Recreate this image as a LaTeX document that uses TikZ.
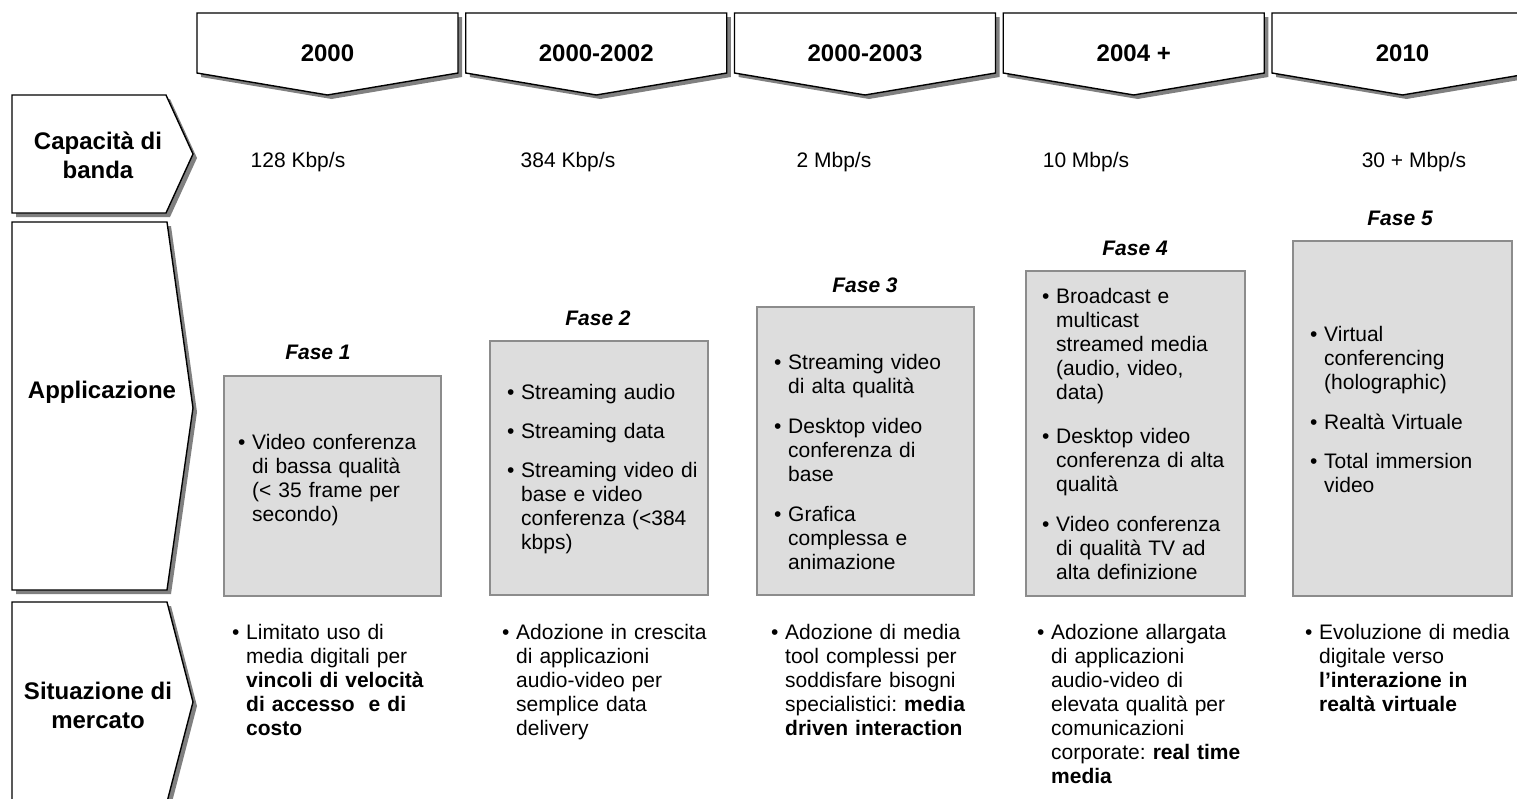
\documentclass[tikz,border=0pt]{standalone}
\usepackage{fontspec}
\setmainfont{Liberation Sans}
\definecolor{shadowgray}{HTML}{808080}
\definecolor{boxfill}{HTML}{DDDDDD}
\definecolor{boxborder}{HTML}{8C8C8C}
\newcommand{\bul}[1]{\par\noindent\makebox[14pt][l]{\textbullet}\begin{tabular}[t]{@{}l@{}}#1\end{tabular}\par}
\newcommand{\gap}{\vspace{15pt}}
\newcommand{\gapb}{\vspace{19pt}}
\frenchspacing
\begin{document}
\begin{tikzpicture}[x=1pt,y=-1pt,
  chev/.style={draw=black, line width=1.4pt, fill=white, line join=miter},
  shad/.style={fill=shadowgray, draw=none},
  phasebox/.style={draw=boxborder, line width=1.4pt, fill=boxfill},
  lbl/.style={font=\fontsize{24}{29}\selectfont\bfseries, align=center, inner sep=0},
  bw/.style={font=\fontsize{21}{24}\selectfont, inner sep=0},
  fase/.style={font=\fontsize{21}{24}\selectfont\bfseries\itshape, inner sep=0},
  body/.style={font=\fontsize{21}{24}\selectfont\frenchspacing, inner sep=0, text width=250pt, anchor=north west}]
\useasboundingbox (0,0) rectangle (1517,798);
\clip (0,0) rectangle (1517,798);

% top chevrons
\foreach \i/\t in {0/2000,1/2000-2002,2/2000-2003,3/2004 +,4/2010}{
  \pgfmathsetmacro{\xa}{197+268.75*\i}
  \pgfmathsetmacro{\xb}{\xa+261}
  \pgfmathsetmacro{\xm}{\xa+130.5}
  \fill[shad] (\xa+4,17) -- (\xb+4,17) -- (\xb+4,77) -- (\xm+4,99) -- (\xa+4,77) -- cycle;
  \draw[chev] (\xa,13) -- (\xb,13) -- (\xb,73) -- (\xm,95) -- (\xa,73) -- cycle;
  \node[lbl] (year\i) at (\xm,53) {\t};
}

% left chevrons
\fill[shad] (16,99) -- (170,99) -- (197,158) -- (170,217) -- (16,217) -- cycle;
\draw[chev] (12,95) -- (166,95) -- (193,154) -- (166,213) -- (12,213) -- cycle;
\fill[shad] (16,226) -- (171,226) -- (197,412) -- (171,594) -- (16,594) -- cycle;
\draw[chev] (12,222) -- (167,222) -- (193,408) -- (167,590) -- (12,590) -- cycle;
\fill[shad] (16,606) -- (171,606) -- (197,706) -- (171,806) -- (16,806) -- cycle;
\draw[chev] (12,602) -- (167,602) -- (193,702) -- (167,802) -- (12,802) -- cycle;

\node[lbl] (lcap) at (98,155) {Capacità di\\banda};
\node[lbl] (lapp) at (102,392) {Applicazione};
\node[lbl] (lsit) at (98,705) {Situazione di\\mercato};

% bandwidth
\node[bw] (bw1) at (298,162) {128 Kbp/s};
\node[bw] (bw2) at (568,162) {384 Kbp/s};
\node[bw] (bw3) at (834,162) {2 Mbp/s};
\node[bw] (bw4) at (1086,162) {10 Mbp/s};
\node[bw] (bw5) at (1414,162) {30 + Mbp/s};

% phase titles
\node[fase] (f1) at (318,352) {Fase 1};
\node[fase] (f2) at (598,318) {Fase 2};
\node[fase] (f3) at (865,285) {Fase 3};
\node[fase] (f4) at (1135,248) {Fase 4};
\node[fase] (f5) at (1400,218) {Fase 5};

% phase boxes
\draw[phasebox] (224,376) rectangle (441,596);
\draw[phasebox] (490,341) rectangle (708,595);
\draw[phasebox] (757,307) rectangle (974,595);
\draw[phasebox] (1026,271) rectangle (1245,596);
\draw[phasebox] (1293,241) rectangle (1512,596);

\node[body] (a1) at (238,425) {\bul{Video conferenza\\di bassa qualità\\(< 35 frame per\\secondo)}};
\node[body] (a2) at (507,375) {\bul{Streaming audio}\gap\bul{Streaming data}\gap\bul{Streaming video di\\base e video\\conferenza (<384\\kbps)}};
\node[body] (a3) at (774,345) {\bul{Streaming video\\di alta qualità}\gap\bul{Desktop video\\conferenza di\\base}\gap\bul{Grafica\\complessa e\\animazione}};
\node[body] (a4) at (1042,279) {\bul{Broadcast e\\multicast\\streamed media\\(audio, video,\\data)}\gapb\bul{Desktop video\\conferenza di alta\\qualità}\gap\bul{Video conferenza\\di qualità TV ad\\alta definizione}};
\node[body] (a5) at (1310,317) {\bul{Virtual\\conferencing\\(holographic)}\gap\bul{Realtà Virtuale}\gap\bul{Total immersion\\video}};

% market situation
\node[body] (m1) at (232,615) {\bul{Limitato uso di\\media digitali per\\\textbf{vincoli di velocità}\\\textbf{di accesso\ \ e di}\\\textbf{costo}}};
\node[body] (m2) at (502,615) {\bul{Adozione in crescita\\di applicazioni\\audio-video per\\semplice data\\delivery}};
\node[body] (m3) at (771,615) {\bul{Adozione di media\\tool complessi per\\soddisfare bisogni\\specialistici: \textbf{media}\\\textbf{driven interaction}}};
\node[body] (m4) at (1037,615) {\bul{Adozione allargata\\di applicazioni\\audio-video di\\elevata qualità per\\comunicazioni\\corporate: \textbf{real time}\\\textbf{media}}};
\node[body] (m5) at (1305,615) {\bul{Evoluzione di media\\digitale verso\\\textbf{l’interazione in}\\\textbf{realtà virtuale}}};
\end{tikzpicture}
\end{document}
